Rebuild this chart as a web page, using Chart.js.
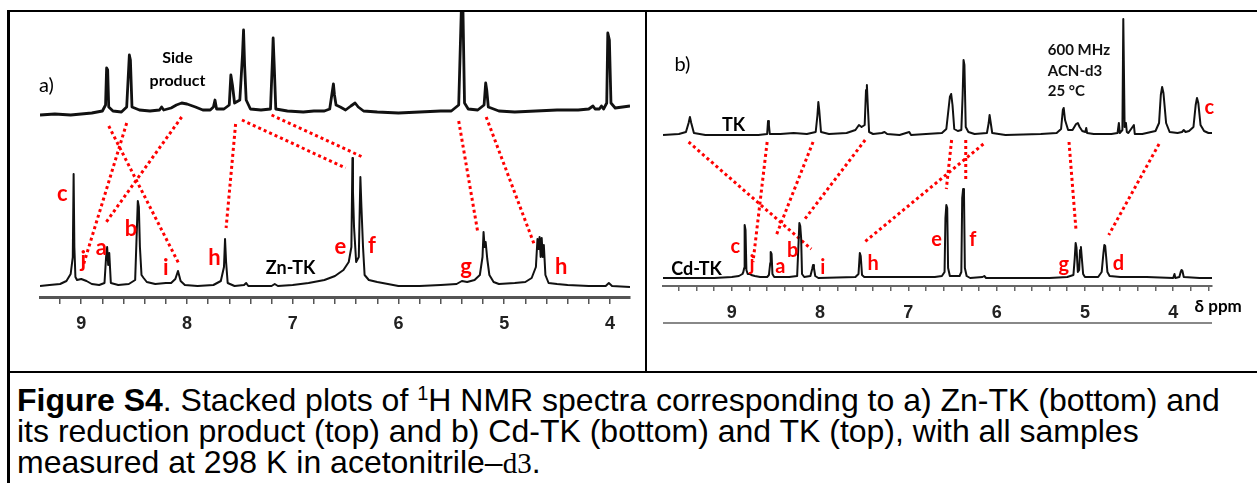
<!DOCTYPE html>
<html>
<head>
<meta charset="utf-8">
<script src="https://cdn.jsdelivr.net/npm/chart.js@4.4.1/dist/chart.umd.min.js"></script>
<style>
  body { margin: 0; background: #fff; width: 1257px; height: 483px; overflow: hidden; position: relative; font-family: "Liberation Sans", Arial, sans-serif; }
  canvas { position: absolute; top: 0; }
  .ln { position: absolute; background: #000; }
  #caption { position: absolute; left: 17px; top: 385px; font-size: 32px; line-height: 31px; color: #000; white-space: nowrap; }
  #caption sup { font-size: 20px; line-height: 0; vertical-align: 11px; }
  #caption .serif { font-family: "Liberation Serif", "Times New Roman", serif; font-size: 29px; }
</style>
</head>
<body>
<canvas id="panelA" width="645" height="345" style="left:0"></canvas>
<canvas id="panelB" width="610" height="345" style="left:647px"></canvas>

<div class="ln" style="left:7px;top:10px;width:1250px;height:2px"></div>
<div class="ln" style="left:7px;top:10px;width:3px;height:473px"></div>
<div class="ln" style="left:645px;top:10px;width:2px;height:362px"></div>
<div class="ln" style="left:7px;top:371px;width:1250px;height:2px"></div>
<div class="ln" style="left:663px;top:322px;width:549px;height:1.5px;background:#888"></div>

<div id="caption"><b>Figure S4</b>. Stacked plots of <sup>1</sup>H NMR spectra corresponding to a) Zn-TK (bottom) and<br>its reduction product (top) and b) Cd-TK (bottom) and TK (top), with all samples<br>measured at 298 K in acetonitrile–<span class="serif">d3</span>.</div>

<script>
// ppm window of each panel (x axis runs right to left)
const rangeA = [3.81, 9.39];
const rangeB = [3.56, 9.78];

// a) Zn-TK, bottom trace: [ppm, intensity]
const znTK = [
  [9.39,1],[9.30,2],[9.20,3],[9.14,6],[9.10,13],[9.08,30],[9.072,113],[9.065,40],[9.055,10],[9.04,7],
  [9.00,8],[8.95,6],[8.90,3],[8.83,2],[8.78,4],[8.765,30],[8.755,40],[8.745,22],[8.735,34],[8.72,4],
  [8.65,2],[8.55,3],[8.49,7],[8.465,86],[8.455,80],[8.445,40],[8.43,12],[8.41,9],[8.38,5],[8.30,3],
  [8.20,4],[8.15,4],[8.11,8],[8.085,16],[8.06,6],[8.02,2],[7.90,1],[7.75,2],[7.68,6],[7.65,20],
  [7.64,48],[7.63,25],[7.615,4],[7.55,1],[7.46,2],[7.44,4],[7.42,1],[7.20,1],[7.17,3],[7.14,1],
  [7.00,2],[6.85,4],[6.70,7],[6.60,11],[6.52,17],[6.47,25],[6.445,40],[6.435,129],[6.43,95],[6.42,60],
  [6.40,25],[6.375,30],[6.36,110],[6.35,80],[6.335,40],[6.32,12],[6.28,7],[6.20,5],[6.10,3],[6.00,1],
  [5.80,1],[5.60,2],[5.45,3],[5.40,6],[5.35,5],[5.28,7],[5.23,12],[5.205,30],[5.195,55],[5.185,40],
  [5.175,45],[5.16,28],[5.14,12],[5.10,5],[5.05,3],[4.90,4],[4.80,5],[4.74,9],[4.70,20],[4.685,48],
  [4.675,38],[4.665,50],[4.655,30],[4.645,49],[4.635,30],[4.625,42],[4.61,12],[4.58,4],[4.50,3],[4.40,2],
  [4.20,1],[4.04,1],[4.01,4],[3.98,1],[3.81,0]
];

// a) side / reduction product, top trace
const sideProduct = [
  [9.39,0],[9.25,1],[9.10,0],[9.00,1],[8.90,2],[8.80,4],[8.77,10],[8.76,47],[8.75,45],[8.74,8],
  [8.70,4],[8.62,3],[8.57,8],[8.545,60],[8.535,55],[8.52,8],[8.45,5],[8.35,4],[8.26,5],[8.24,8],
  [8.22,5],[8.15,7],[8.10,10],[8.05,12],[8.00,11],[7.92,8],[7.85,5],[7.78,5],[7.75,8],[7.735,15],
  [7.72,6],[7.65,6],[7.60,10],[7.585,40],[7.57,30],[7.55,12],[7.50,15],[7.475,60],[7.465,85],[7.455,50],
  [7.44,15],[7.40,6],[7.30,5],[7.21,6],[7.19,60],[7.185,77],[7.175,50],[7.16,6],[7.05,4],[6.90,3],
  [6.80,4],[6.70,4],[6.65,6],[6.615,31],[6.605,20],[6.59,10],[6.55,8],[6.50,5],[6.45,9],[6.41,12],
  [6.38,8],[6.33,4],[6.20,3],[6.00,2],[5.80,3],[5.60,4],[5.50,4],[5.43,10],[5.405,106],[5.39,106],
  [5.375,12],[5.34,6],[5.25,5],[5.19,10],[5.175,32],[5.165,25],[5.15,8],[5.05,4],[4.90,3],[4.70,4],
  [4.50,5],[4.30,5],[4.20,6],[4.16,9],[4.14,6],[4.10,6],[4.08,9],[4.06,6],[4.03,12],[4.02,82],
  [4.005,75],[3.99,12],[3.95,7],[3.88,8],[3.81,9]
];

// b) Cd-TK, bottom trace
const cdTK = [
  [9.78,0],[9.50,0],[9.20,0],[9.00,1],[8.92,2],[8.88,4],[8.87,6],[8.86,10],[8.855,53],[8.845,48],
  [8.835,8],[8.82,4],[8.80,4],[8.78,3],[8.74,2],[8.68,1],[8.60,1],[8.58,3],[8.565,15],[8.56,26],
  [8.55,24],[8.54,4],[8.52,1],[8.35,1],[8.26,2],[8.235,55],[8.225,52],[8.215,40],[8.205,4],[8.18,1],
  [8.11,2],[8.09,9],[8.08,13],[8.07,10],[8.055,2],[8.02,0],[7.60,1],[7.565,4],[7.55,25],[7.54,22],
  [7.525,3],[7.50,1],[6.70,1],[6.62,2],[6.59,6],[6.58,60],[6.57,73],[6.56,70],[6.55,10],[6.53,2],
  [6.42,2],[6.40,6],[6.39,80],[6.38,89],[6.37,85],[6.36,10],[6.34,2],[6.30,0],[6.16,1],[6.14,2],
  [6.12,0],[5.40,0],[5.20,1],[5.13,3],[5.115,20],[5.105,35],[5.095,30],[5.08,6],[5.065,8],[5.055,28],
  [5.045,31],[5.035,20],[5.02,4],[5.00,1],[4.85,1],[4.81,6],[4.79,25],[4.78,33],[4.77,32],[4.76,22],
  [4.745,6],[4.72,2],[4.60,1],[4.30,1],[4.00,0],[3.985,4],[3.975,0],[3.93,1],[3.915,6],[3.905,8],
  [3.895,7],[3.88,1],[3.70,0],[3.56,0]
];

// b) free TK, top trace
const tk = [
  [9.78,0],[9.60,1],[9.52,3],[9.49,12],[9.475,18],[9.46,12],[9.43,2],[9.30,0],[8.90,0],[8.70,0],
  [8.60,1],[8.59,14],[8.58,10],[8.57,1],[8.45,1],[8.30,2],[8.15,1],[8.05,3],[8.03,20],[8.02,33],
  [8.01,25],[7.99,3],[7.90,1],[7.70,2],[7.60,5],[7.56,10],[7.53,8],[7.495,10],[7.48,45],[7.47,50],
  [7.46,30],[7.445,3],[7.40,1],[7.30,2],[7.27,3],[7.24,1],[7.10,0],[6.99,3],[6.97,0],[6.80,1],
  [6.62,2],[6.57,6],[6.53,38],[6.515,41],[6.50,30],[6.48,6],[6.44,4],[6.40,5],[6.385,40],[6.375,75],
  [6.365,70],[6.35,8],[6.32,3],[6.25,1],[6.11,2],[6.09,12],[6.08,20],[6.07,14],[6.05,2],[5.90,0],
  [5.50,1],[5.32,2],[5.27,6],[5.25,25],[5.24,27],[5.225,15],[5.19,5],[5.14,5],[5.10,11],[5.08,12],
  [5.06,8],[5.03,4],[4.995,3],[4.985,7],[4.975,2],[4.90,1],[4.70,1],[4.63,2],[4.615,12],[4.605,2],
  [4.575,5],[4.565,116],[4.56,116],[4.55,8],[4.535,12],[4.525,3],[4.51,2],[4.50,3],[4.445,10],[4.435,1],
  [4.35,1],[4.20,4],[4.16,12],[4.14,40],[4.125,48],[4.11,42],[4.08,12],[4.04,3],[3.95,2],[3.90,3],
  [3.88,5],[3.86,3],[3.82,4],[3.77,8],[3.745,30],[3.73,37],[3.715,32],[3.69,10],[3.65,4],[3.60,2],
  [3.56,2]
];

// dotted correlation lines: [[ppm, y], [ppm, y]]
const linksA = [
  [[8.74,161],[8.08,24]], [[8.57,164],[8.98,22]], [[8.05,170],[8.77,64]], [[7.54,163],[7.63,59]],
  [[7.48,167],[6.50,119]], [[7.20,172],[6.34,130]], [[5.43,166],[5.25,55]], [[5.17,170],[4.71,41]]
];
const linksB = [
  [[9.49,136],[8.10,29]], [[8.60,136],[8.76,16]], [[8.08,136],[8.50,42]], [[7.49,138],[8.19,57]],
  [[6.51,138],[6.57,89]], [[6.35,138],[6.35,97]], [[6.15,134],[7.51,35]], [[5.18,136],[5.10,47]],
  [[4.16,134],[4.73,43]]
];

// peak assignments: [text, ppm, y]
const peakTagsA = [
  ['c',9.18,93],['j',8.98,27],['a',8.81,39],['b',8.53,58],['i',8.20,19],['h',7.74,29],
  ['e',6.55,40],['f',6.25,41],['g',5.36,20],['h',4.46,20]
];
const peakTagsB = [
  ['c',8.96,31],['j',8.77,14],['a',8.45,11],['b',8.31,27],['i',7.97,10],['h',7.40,14],
  ['e',6.68,38],['f',6.27,38],['g',5.24,13],['d',4.62,14],['c',3.59,170]
];
const notesA = [['Zn-TK',7.02,19],['Side',8.09,229],['product',8.09,206]];
const notesB = [['Cd-TK',9.40,9],['TK',8.98,153]];
const infoB = [['600 MHz',5.42,228],['ACN-d3',5.42,207],['25 °C',5.42,187]];

const offsetA = 172;   // top trace lifted above Zn-TK
const offsetB = 143;   // TK lifted above Cd-TK
const RED = '#ff0000';

const toXY = (arr, off) => arr.map(([x, y]) => ({ x: x, y: y + off }));

function textPlugin(groups) {
  return {
    id: 'tags',
    afterDatasetsDraw(chart) {
      const { ctx, scales: { x, y } } = chart;
      ctx.save();
      ctx.textBaseline = 'middle';
      groups.forEach(g => {
        ctx.font = g.font;
        ctx.fillStyle = g.color;
        ctx.textAlign = g.align || 'center';
        g.items.forEach(([t, px, py]) => {
          ctx.fillText(t, x.getPixelForValue(px), y.getPixelForValue(py));
        });
      });
      ctx.restore();
    }
  };
}

function spectrumSet(points, width) {
  return { data: points, borderColor: '#111', borderWidth: width, pointRadius: 0, tension: 0,
           borderJoinStyle: 'round', fill: false };
}

function linkSets(links) {
  return links.map(([a, b]) => ({
    data: [{ x: a[0], y: a[1] }, { x: b[0], y: b[1] }],
    borderColor: RED, borderWidth: 3, borderDash: [3, 3], pointRadius: 0, fill: false
  }));
}

function makePanel(id, o) {
  return new Chart(document.getElementById(id), {
    type: 'line',
    data: { datasets: o.datasets },
    options: {
      responsive: false,
      animation: false,
      devicePixelRatio: 1,
      layout: { autoPadding: false, padding: o.padding },
      plugins: { legend: { display: false }, tooltip: { enabled: false } },
      scales: {
        x: {
          type: 'linear', reverse: true, min: o.range[0], max: o.range[1],
          afterFit: s => { s.height = 40; },
          border: { display: true, color: o.axisColor, width: o.axisWidth },
          grid: { drawOnChartArea: false, drawTicks: true, tickLength: o.tickLength, color: o.axisColor, lineWidth: 1.5 },
          ticks: {
            stepSize: 0.2, includeBounds: false, autoSkip: false, maxRotation: 0, padding: o.labelPad,
            color: '#222', font: { family: 'Liberation Sans', size: 18, weight: 'bold' },
            callback: v => Math.abs(v - Math.round(v)) < 1e-6 ? String(Math.round(v)) : ''
          }
        },
        y: { display: false, min: o.yMin, max: o.yMax }
      }
    },
    plugins: [textPlugin(o.text)]
  });
}

makePanel('panelA', {
  range: rangeA, yMin: -10, yMax: 276,
  padding: { left: 40, right: 15, top: 11, bottom: 8 },
  axisColor: '#555', axisWidth: 3, tickLength: 7, labelPad: 9,
  datasets: [
    spectrumSet(toXY(znTK, 0), 2),
    spectrumSet(toXY(sideProduct, offsetA), 2.8),
    ...linkSets(linksA)
  ],
  text: [
    { items: peakTagsA, color: RED, font: 'bold 22px Lato' },
    { items: notesA.slice(0, 1), color: '#000', font: 'bold 18px Lato' },
    { items: notesA.slice(1), color: '#000', font: 'bold 16px Lato' },
    { items: [['a)', 9.33, 201]], color: '#000', font: '20px Lato' }
  ]
});

makePanel('panelB', {
  range: rangeB, yMin: -8, yMax: 267,
  padding: { left: 16, right: 45, top: 11, bottom: 19 },
  axisColor: '#666', axisWidth: 2, tickLength: 5, labelPad: 11,
  datasets: [
    spectrumSet(toXY(cdTK, 0), 2),
    spectrumSet(toXY(tk, offsetB), 2),
    ...linkSets(linksB)
  ],
  text: [
    { items: peakTagsB, color: RED, font: 'bold 20px Lato' },
    { items: notesB, color: '#000', font: 'bold 18px Lato' },
    { items: infoB, color: '#111', font: 'bold 15px Lato', align: 'left' },
    { items: [['b)', 9.56, 213]], color: '#000', font: '20px Lato' },
    { items: [['δ ppm', 3.49, -29]], color: '#000', font: 'bold 17px Lato' }
  ]
});
</script>
</body>
</html>
